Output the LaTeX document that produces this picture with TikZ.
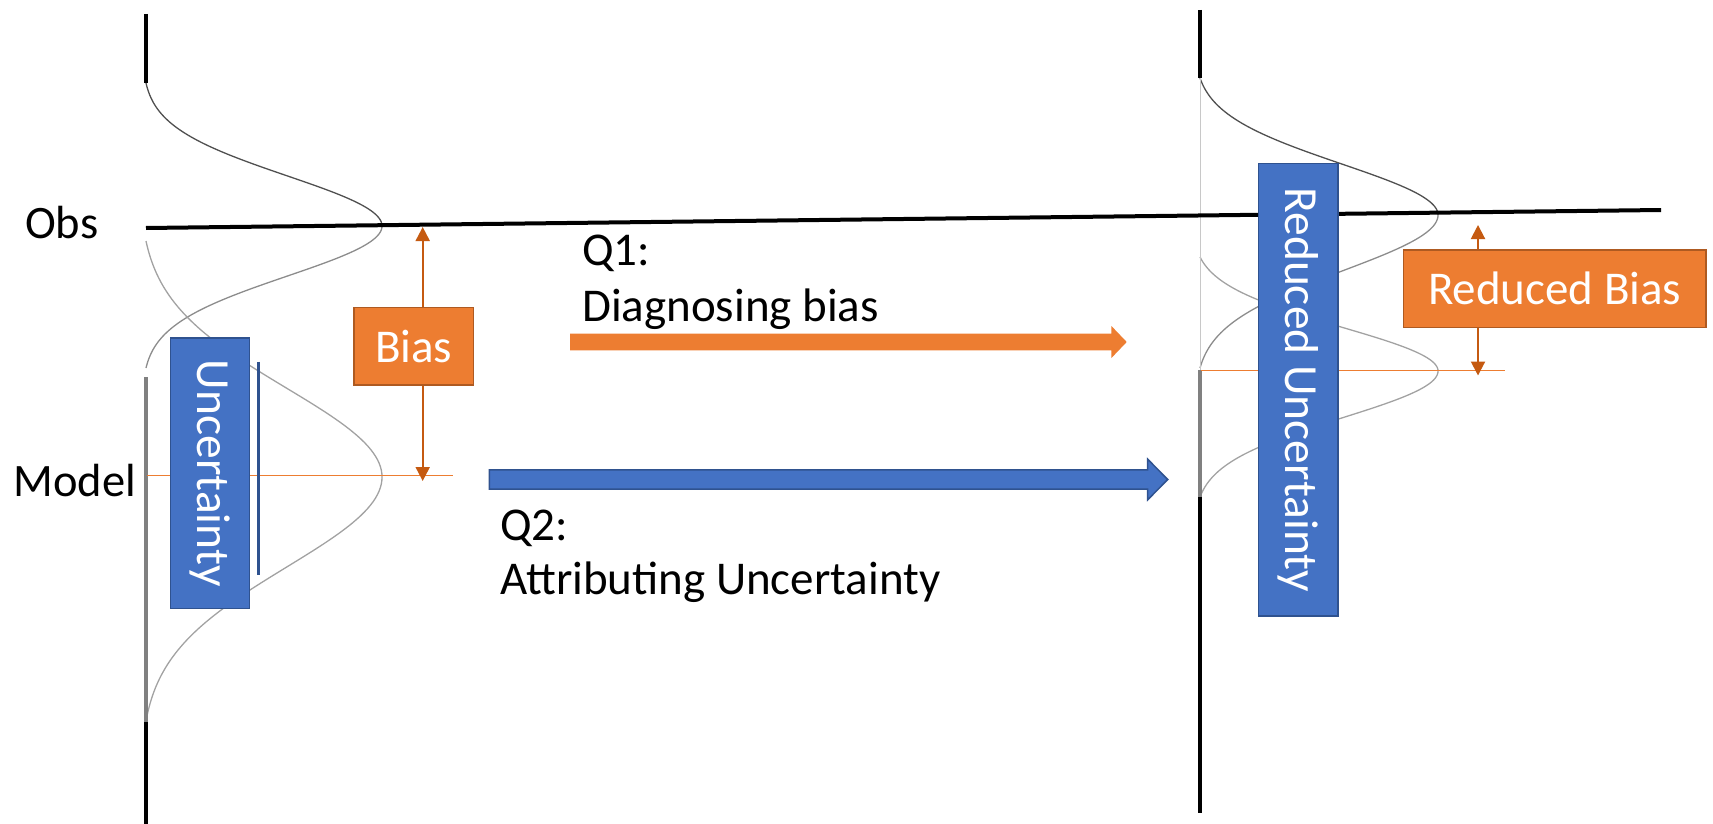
\documentclass[tikz,border=0pt]{standalone}
\usepackage{fontspec}
\setmainfont{Carlito}
\usetikzlibrary{arrows.meta,calc}
\definecolor{boxblue}{HTML}{4472C4}
\definecolor{boxblueline}{HTML}{2F528F}
\definecolor{boxorange}{HTML}{ED7D31}
\definecolor{boxorangeline}{HTML}{AE5A21}
\definecolor{biasarrow}{HTML}{C55A11}
\definecolor{obsdark}{HTML}{505050}
\definecolor{obslight}{HTML}{8C8C8C}
\definecolor{modcurve}{HTML}{A2A2A2}
\definecolor{axisgrey}{HTML}{808080}
\definecolor{axisthin}{HTML}{C8C8C8}
% #1 style, #2 from, #3 to, #4 x0, #5 amplitude, #6 centre, #7 sigma, #8 half-range
\newcommand{\gausshalf}[8]{%
  \draw[#1] plot[domain=#2:#3, samples=70, variable=\t]
    ({#4+#5*(exp(-0.5*((\t-#6)/#7)^2)-exp(-0.5*(#8/#7)^2))/(1-exp(-0.5*(#8/#7)^2))}, {\t});
}
\begin{document}
\begin{tikzpicture}[x=1pt,y=-1pt,
  lbl/.style={font=\fontsize{46.5}{55}\selectfont, inner sep=0pt, anchor=base west},
  qlbl/.style={font=\fontsize{47}{55}\selectfont, inner sep=0pt, anchor=base west},
  bluebox/.style={draw=boxblueline, fill=boxblue, line width=1.5pt, text=white, inner sep=0pt, font=\fontsize{47.5}{55}\selectfont},
  orangebox/.style={draw=boxorangeline, fill=boxorange, line width=1.5pt, text=white, inner sep=0pt, font=\fontsize{47}{55}\selectfont},
  axisline/.style={line width=4pt, black},
  axisgreyline/.style={line width=3.5pt, axisgrey},
  obsup/.style={obsdark, line width=1.3pt},
  obslow/.style={obslight, line width=1.3pt},
  modc/.style={modcurve, line width=1.3pt},
  modelline/.style={boxorange, line width=1.2pt},
  biasarr/.style={biasarrow, line width=2pt, <->, >={Triangle[length=14pt,width=14pt]}},
]
\useasboundingbox (0,0) rectangle (1713,824);

% ---- curves, left panel
\gausshalf{obsup}{83}{226}{146}{236}{226}{50}{143}
\gausshalf{obslow}{226}{368}{146}{236}{226}{50}{142}
\gausshalf{modc}{241}{477}{146}{236}{477}{89}{236}
\gausshalf{modc}{477}{721}{146}{236}{477}{90}{244}
% ---- curves, right panel
\gausshalf{obsup}{78}{215}{1200}{238}{215}{51}{137}
\gausshalf{obslow}{215}{368}{1200}{238}{215}{56}{153}
\gausshalf{modc}{257}{371}{1200}{238}{371}{44}{114}
\gausshalf{modc}{371}{497}{1200}{238}{371}{47}{126}

% ---- axes
\draw[axisline] (146,14) -- (146,83);
\draw[axisgreyline] (146,377) -- (146,722);
\draw[axisline] (146,722) -- (146,824);
\draw[axisline] (1200,10) -- (1200,78);
\draw[axisthin, line width=1pt] (1200,78) -- (1200,370);
\draw[axisgreyline] (1200,370) -- (1200,497);
\draw[axisline] (1200,497) -- (1200,813);

% ---- observation line and model lines
\draw[line width=4pt, black] (146,228) -- (1661,210);
\draw[modelline] (147,475.5) -- (452.5,475.5);
\draw[modelline] (1201,370.5) -- (1505,370.5);

% ---- bias arrows
\coordinate (b1top) at (422.7,227);
\coordinate (b1bot) at (422.7,481);
\draw[biasarr] (b1top) -- (b1bot);
\coordinate (b2top) at (1478,225);
\coordinate (b2bot) at (1478,375.5);
\draw[biasarr] (b2top) -- (b2bot);

% ---- boxes
\node[bluebox, rotate=-90, minimum width=270.5pt, minimum height=78.6pt] (unc) at (210,473.3) {Uncertainty};
\draw[boxblueline, line width=2.5pt] (258.3,361.5) -- (258.3,575.4);
\node[orangebox, minimum width=119.3pt, minimum height=77.7pt] (bias) at (413.7,346.2) {Bias};
\node[bluebox, rotate=-90, minimum width=452.6pt, minimum height=79.2pt] (runc) at (1298.2,389.7) {Reduced Uncertainty};
\node[orangebox, minimum width=302.2pt, minimum height=77.4pt] (rbias) at (1554.7,288.7) {Reduced Bias};

% ---- block arrows
\coordinate (a1s) at (570,342);
\coordinate (a1e) at (1126.7,342);
\fill[boxorange] ($(a1s)+(0,-8.4)$) -- ($(a1e)+(-15.3,-8.4)$) -- ($(a1e)+(-15.3,-16)$) -- (a1e)
  -- ($(a1e)+(-15.3,16)$) -- ($(a1e)+(-15.3,8.4)$) -- ($(a1s)+(0,8.4)$) -- cycle;
\coordinate (a2s) at (489.3,479.5);
\coordinate (a2e) at (1167.7,479.5);
\filldraw[fill=boxblue, draw=boxblueline, line width=1.5pt, line join=miter]
  ($(a2s)+(0,-9.6)$) -- ($(a2e)+(-20,-9.6)$) -- ($(a2e)+(-20,-20.3)$) -- (a2e)
  -- ($(a2e)+(-20,20.3)$) -- ($(a2e)+(-20,9.6)$) -- ($(a2s)+(0,9.6)$) -- cycle;

% ---- labels
\node[lbl] (obs) at (25,238.3) {Obs};
\node[lbl] (model) at (13.3,496) {Model};
\node[qlbl] (q1) at (582,265) {Q1:};
\node[qlbl] (q1b) at (582,321.7) {Diagnosing bias};
\node[qlbl] (q2) at (500,540) {Q2:};
\node[qlbl] (q2b) at (500,594) {Attributing Uncertainty};
\end{tikzpicture}
\end{document}
